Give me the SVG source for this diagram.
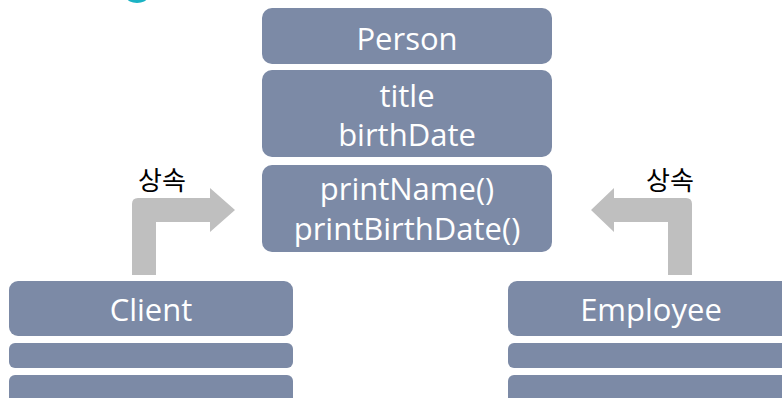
<svg xmlns="http://www.w3.org/2000/svg" width="782" height="398" viewBox="0 0 782 398">
<style>
.box{fill:#7c8aa6;}
.t{font-family:"Open Sans","Liberation Sans",sans-serif;font-size:31px;fill:#ffffff;text-anchor:middle;}
.lbl{font-family:"Noto Sans CJK KR",sans-serif;font-size:26px;fill:#000000;text-anchor:middle;}
.arrow{fill:#bfbfbf;}
</style>
<rect width="782" height="398" fill="#ffffff"/>
<ellipse cx="137" cy="-2" rx="10" ry="5" fill="#1bb3c4"/>
<g id="person">
<rect class="box" x="262" y="8" width="290" height="56" rx="10"/>
<text class="t" x="407" y="50">Person</text>
<rect class="box" x="262" y="70" width="290" height="87" rx="10"/>
<text class="t" x="407" y="107">title</text>
<text class="t" x="407" y="146">birthDate</text>
<rect class="box" x="262" y="165" width="290" height="87" rx="10"/>
<text class="t" x="407" y="200">printName()</text>
<text class="t" x="407" y="240">printBirthDate()</text>
</g>
<g id="client">
<rect class="box" x="9" y="281" width="284" height="55" rx="9"/>
<text class="t" x="151" y="321">Client</text>
<rect class="box" x="9" y="343" width="284" height="25" rx="6"/>
<rect class="box" x="9" y="375" width="284" height="40" rx="6"/>
</g>
<g id="employee">
<rect class="box" x="508" y="281" width="290" height="55" rx="9"/>
<text class="t" x="651" y="321">Employee</text>
<rect class="box" x="508" y="343" width="290" height="25" rx="6"/>
<rect class="box" x="508" y="375" width="290" height="40" rx="6"/>
</g>
<g id="connectors">
<path class="arrow" d="M132,275 V204 Q132,198 138,198 H210 V188 L235,210 L210,232 V222 H156 V275 Z"/>
<path class="arrow" d="M692,275 V204 Q692,198 686,198 H614 V188 L591,210 L614,232 V222 H668 V275 Z"/>
<text class="lbl" x="162" y="190">상속</text>
<text class="lbl" x="670" y="190">상속</text>
</g>
</svg>
